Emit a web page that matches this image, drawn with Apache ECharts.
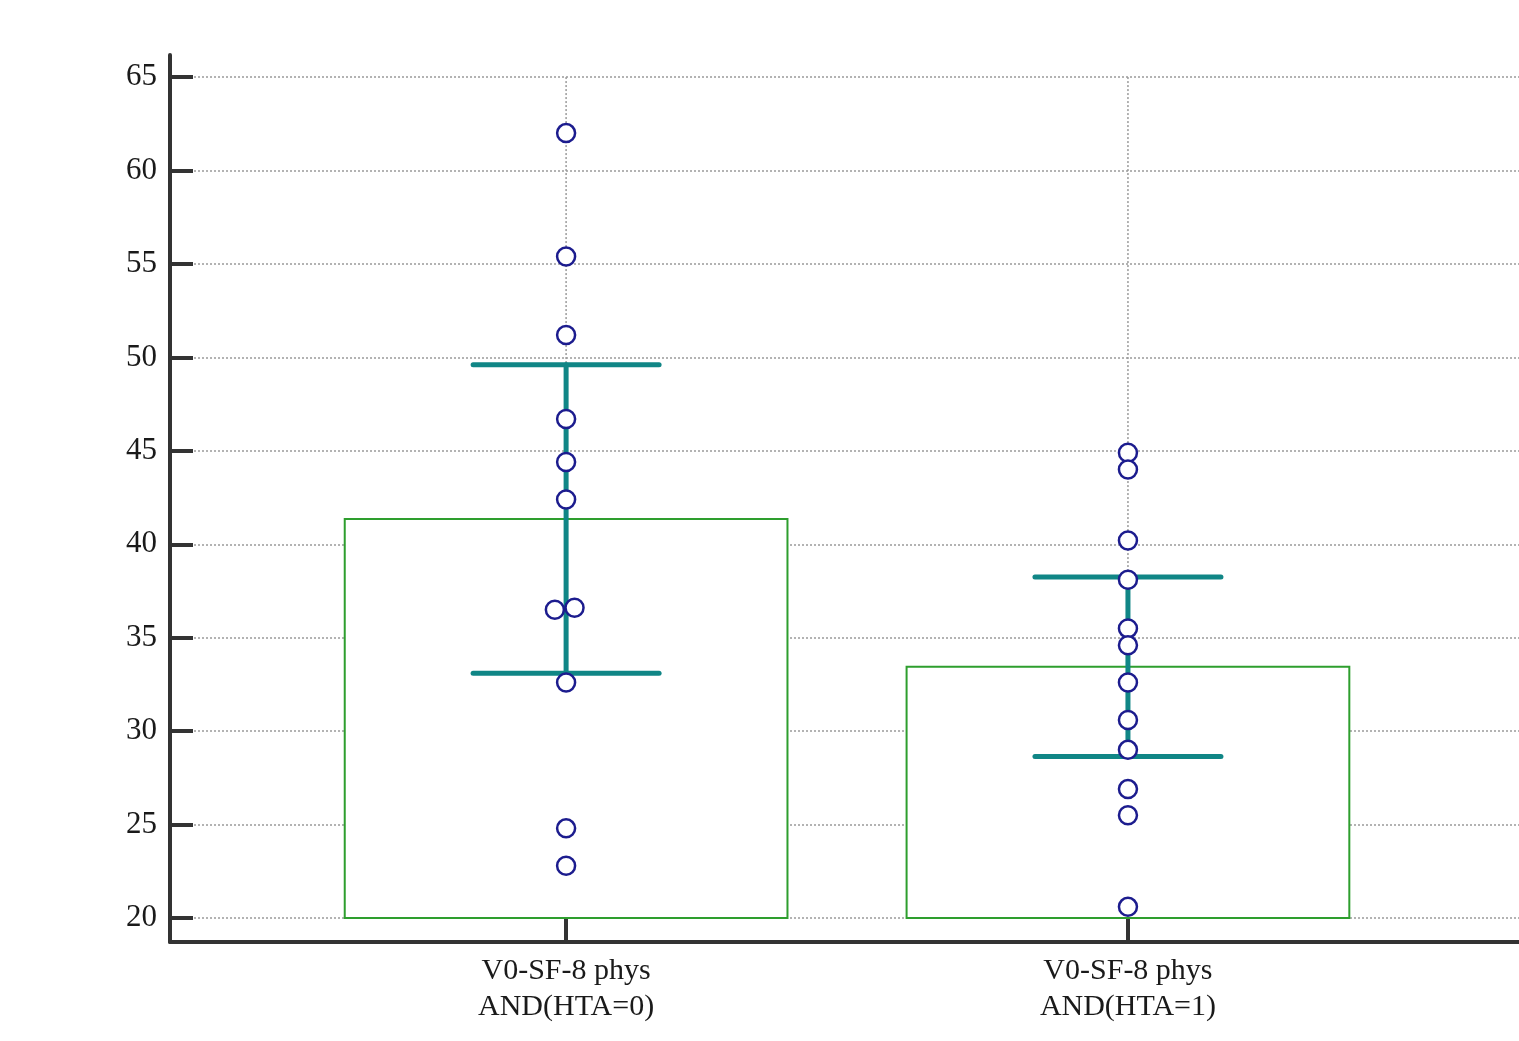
<!DOCTYPE html>
<html>
<head>
<meta charset="utf-8">
<script src="https://cdn.jsdelivr.net/npm/echarts@6/dist/echarts.min.js"></script>
<style>
  html, body { margin: 0; padding: 0; background: #fff; }
  #chart { width: 1519px; height: 1041px; }
</style>
</head>
<body>
<div id="chart"></div>
<script>
// groups along the x axis
const categories = ['V0-SF-8 phys\nAND(HTA=0)', 'V0-SF-8 phys\nAND(HTA=1)'];
const means = [41.35, 33.45];
const sds = [8.25, 4.8];

// individual observations
const valuesHta0 = [62.0, 55.4, 51.2, 46.7, 44.4, 42.4, 36.5, 36.6, 32.6, 24.8, 22.8];
const jitterHta0 = [0, 0, 0, 0, 0, 0, -0.02, 0.015, 0, 0, 0];
const valuesHta1 = [44.9, 44.0, 40.2, 38.1, 35.5, 34.6, 32.6, 30.6, 29.0, 26.9, 25.5, 20.6];

const yTicks = [20, 25, 30, 35, 40, 45, 50, 55, 60, 65];
const baseValue = 20;
const topValue = 65;

const font = '"Liberation Serif", "DejaVu Serif", serif';

const barData = means.map((m, i) => [i + 1, m]);
const errData = means.map((m, i) => [i + 1, m - sds[i], m + sds[i]]);
const pointData = [];
valuesHta0.forEach((v, i) => pointData.push([1 + jitterHta0[i], v]));
valuesHta1.forEach(v => pointData.push([2, v]));

const myChart = echarts.init(document.getElementById('chart'));

const option = {
  animation: false,
  grid: { left: 170, right: 0, top: 55, bottom: 99 },
  xAxis: {
    type: 'value',
    min: 0.295,
    max: 2.696,
    axisLine: { lineStyle: { color: '#333', width: 4 } },
    axisTick: {
      customValues: [1, 2],
      inside: true,
      length: 24,
      lineStyle: { color: '#333', width: 4 }
    },
    axisLabel: {
      customValues: [1, 2],
      formatter: v => categories[Math.round(v) - 1],
      fontFamily: font,
      fontSize: 30,
      lineHeight: 36,
      color: '#1a1a1a',
      margin: 11
    },
    splitLine: { show: false }
  },
  yAxis: {
    type: 'value',
    min: 18.72,
    max: 66.18,
    axisLine: { show: true, lineStyle: { color: '#333', width: 4 } },
    axisTick: {
      customValues: yTicks,
      inside: true,
      length: 23,
      lineStyle: { color: '#333', width: 4 }
    },
    axisLabel: {
      customValues: yTicks,
      fontFamily: font,
      fontSize: 31,
      color: '#1a1a1a',
      margin: 13
    },
    splitLine: {
      show: true,
      lineStyle: { color: '#9a9a9a', width: 1.5, type: [2, 2] }
    }
  },
  series: [
    {
      type: 'custom',
      name: 'mean',
      z: 2,
      data: barData,
      renderItem: function (params, api) {
        const x = api.value(0);
        const m = api.value(1);
        const tl = api.coord([x - 0.394, m]);
        const br = api.coord([x + 0.394, baseValue]);
        const gTop = api.coord([x, topValue]);
        const gBot = api.coord([x, baseValue]);
        return {
          type: 'group',
          children: [
            {
              type: 'line',
              shape: { x1: gTop[0], y1: gTop[1], x2: gBot[0], y2: gBot[1] },
              style: { stroke: '#9a9a9a', lineWidth: 1.5, lineDash: [2, 2] }
            },
            {
              type: 'rect',
              shape: { x: tl[0], y: tl[1], width: br[0] - tl[0], height: br[1] - tl[1] },
              style: { fill: '#fff', stroke: '#2e9e2e', lineWidth: 2 }
            }
          ]
        };
      }
    },
    {
      type: 'custom',
      name: 'sd',
      z: 3,
      data: errData,
      renderItem: function (params, api) {
        const x = api.value(0);
        const lo = api.coord([x, api.value(1)]);
        const hi = api.coord([x, api.value(2)]);
        const capL = api.coord([x - 0.1655, 0])[0];
        const capR = api.coord([x + 0.1655, 0])[0];
        const st = { stroke: '#108686', lineWidth: 5, lineCap: 'round' };
        return {
          type: 'group',
          children: [
            { type: 'line', shape: { x1: lo[0], y1: lo[1], x2: hi[0], y2: hi[1] }, style: st },
            { type: 'line', shape: { x1: capL, y1: hi[1], x2: capR, y2: hi[1] }, style: st },
            { type: 'line', shape: { x1: capL, y1: lo[1], x2: capR, y2: lo[1] }, style: st }
          ]
        };
      }
    },
    {
      type: 'scatter',
      name: 'values',
      z: 4,
      data: pointData,
      symbol: 'circle',
      symbolSize: 18,
      itemStyle: { color: '#fff', borderColor: '#1c1c8e', borderWidth: 2.5, opacity: 1 }
    }
  ]
};

myChart.setOption(option);
</script>
</body>
</html>
